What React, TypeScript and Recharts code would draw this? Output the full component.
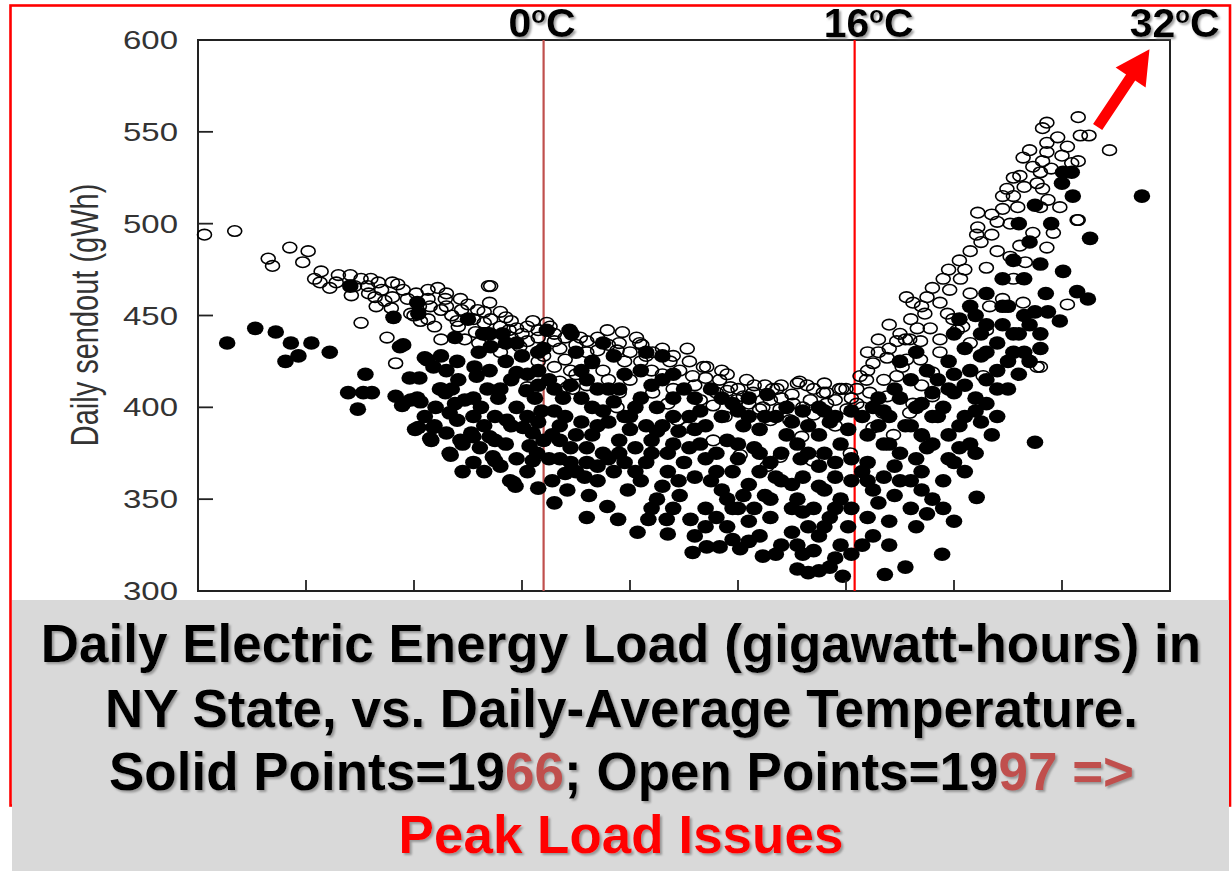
import { ScatterChart, Scatter, XAxis, YAxis, ReferenceLine, ReferenceArea } from 'recharts';

// daily-average temperature (°F) vs daily sendout (gWh)
const solid1966: [number, number][] = [
  [2.7, 435], [5.3, 443], [7.2, 441], [8.6, 435], [8.1, 425], [9.3, 428], [10.5, 435], [12.2, 430],
  [14.1, 466], [15.5, 418], [13.9, 408], [15.3, 408], [16.1, 408], [14.8, 399], [18.1, 449], [18.7, 433],
  [18.3, 406], [18.9, 401], [19.6, 416], [20.3, 405], [20.1, 388], [20.3, 457], [20.4, 451], [19.7, 404],
  [20.6, 403], [20.5, 416], [19, 434], [19, 402],
  [21, 427], [21.8, 422], [20.4, 389], [21.6, 382], [21.9, 390], [23.4, 374], [23.3, 397], [22.9, 408],
  [24.1, 415], [24.7, 404], [25.3, 386], [26.1, 378], [26.2, 400], [25.6, 422], [27.1, 433], [27.5, 382],
  [27.5, 371], [25, 448], [26.6, 440], [23.8, 438], [22.5, 410], [24, 393], [25.5, 395], [26.8, 410],
  [23, 386], [24.5, 380], [22.5, 428], [26, 430], [27, 420], [26.4, 440], [21.2, 426], [22.4, 410],
  [25.8, 417], [23.8, 402], [21.8, 389], [25.5, 384], [27, 384], [24.3, 382], [21.5, 383], [23.3, 375],
  [27.3, 373], [21, 395], [22, 400], [23, 420], [24, 425], [25.5, 405], [26.5, 390], [27.5, 395],
  [28.5, 380], [29.5, 372], [30.5, 365], [29, 390], [28, 410], [26.5, 365], [24.5, 365], [25.5, 370],
  [23.5, 410], [27, 440], [28.5, 435], [30.5, 418], [31.5, 430], [29.5, 435],
  [28, 368], [29.2, 359], [29.5, 400], [30.1, 389], [30.7, 379], [31, 371], [29, 415], [28.5, 425],
  [30, 428], [31.5, 420], [32.3, 442], [32, 432], [32.5, 415], [31.8, 398], [32.8, 385], [32.5, 372],
  [28.2, 440], [27.8, 405], [31.2, 405], [33, 398], [32.8, 360], [31.5, 356], [33, 348], [28.6, 393],
  [28.9, 360], [29.4, 357], [30.4, 409], [31, 386], [31.4, 375], [29.5, 419], [30.5, 395], [31.5, 392],
  [32, 382], [31.5, 412], [33, 410],
  [33.8, 405], [34.4, 442], [34.6, 440], [35, 430], [35.5, 420], [34, 395], [35, 385], [36, 378],
  [34.5, 370], [35.8, 362], [36.5, 400], [37, 390], [37.5, 375], [37, 360], [36, 340], [37.9, 346],
  [38.9, 339], [38.5, 365], [39, 382], [39.5, 395], [38, 410], [36.5, 425], [39.5, 418], [37.5, 435],
  [38.5, 428], [39.8, 355], [39.5, 370], [36.2, 352], [34.2, 355], [35.5, 405], [33.5, 382], [38, 392],
  [33.5, 390], [34.5, 378], [35.5, 392], [36.5, 385], [37.5, 398], [38.5, 403], [39, 375], [38, 372],
  [37, 368], [36, 370], [35, 365], [34, 364], [33.5, 372], [34.5, 412], [36, 415], [37, 410], [39, 410],
  [40.7, 332], [41.7, 339], [43.4, 339], [45.6, 339], [41, 360], [42, 375], [41.5, 390], [42.5, 400],
  [43, 415], [41, 420], [44, 380], [43.5, 365], [44.6, 352], [45, 370], [46, 362], [46.5, 380],
  [44, 395], [45.5, 395], [46.5, 398], [47, 345], [47.5, 360], [42.5, 350], [40.5, 400], [41.5, 430],
  [43, 428], [45.8, 321], [47.1, 324], [44, 405], [47, 390], [40.5, 378], [42.5, 387], [45, 410],
  [40, 388], [40.5, 365], [41.5, 370], [42, 382], [43, 390], [43.5, 375], [44.5, 387], [44.5, 360],
  [45.5, 378], [46, 388], [42, 345], [43, 357], [44, 345], [40, 395], [41, 405], [42, 412], [44, 418],
  [46, 405], [43.5, 331], [46, 330], [47, 335], [47, 372],
  [48.3, 324], [50.2, 323], [52.3, 319], [49, 335], [50, 345], [51, 338], [52, 330], [53, 340],
  [54, 325], [48.5, 355], [49.5, 365], [51, 358], [52.5, 352], [54, 360], [48, 375], [49, 382],
  [50.5, 390], [51.5, 378], [53, 370], [54.5, 385], [50, 398], [52.7, 407], [53.5, 395], [48.5, 395],
  [51, 405], [54.5, 400], [55, 345], [53.5, 320], [55, 332], [49.5, 345], [52, 365], [50, 372],
  [47.5, 410], [48.5, 405], [49.5, 402], [51, 395], [52, 388], [50, 380], [48, 365], [49, 350],
  [50.5, 352], [51.5, 345], [53, 350], [55, 358], [53.5, 362], [52, 375], [48, 340], [49.5, 328],
  [51, 327], [54, 375], [52.5, 395],
  [55.5, 312], [56.5, 310], [57.5, 311], [58.5, 313], [59.7, 308], [55.5, 325], [56.5, 335], [57.5, 330],
  [58.5, 340], [59.5, 325], [60.2, 335], [55.5, 350], [57, 345], [58, 355], [59.5, 350], [60.5, 345],
  [56, 362], [57.5, 368], [59, 362], [60.5, 360], [55.5, 380], [56.5, 390], [57.5, 385], [58.5, 392],
  [59.5, 380], [60.2, 388], [56, 398], [57.5, 400], [59, 395], [58, 375], [55.8, 372], [56, 320],
  [57, 322], [59, 318], [60.5, 320], [58, 335], [56, 343], [59, 345], [57.5, 357], [56.5, 375],
  [59, 370], [60.5, 372], [58, 398], [60.5, 398], [55, 392],
  [61.5, 325], [62, 340], [63.6, 309], [65.5, 313], [62.5, 355], [63, 348], [64, 338], [64.5, 352],
  [65, 360], [66, 345], [66.5, 335], [67, 355], [67.5, 342], [63.5, 362], [68.9, 320], [62, 370],
  [63.5, 380], [65, 375], [66.5, 372], [67.5, 378], [64, 395], [65.5, 390], [66.5, 400], [67, 385],
  [68, 395], [62.5, 400], [61.5, 395], [63, 405], [64.5, 410], [66, 415], [67.5, 420], [68, 408],
  [65, 425], [66.5, 430], [62.5, 330], [64, 325], [62, 360], [63, 390], [64.5, 368], [66, 360],
  [67, 365], [68, 350], [68.5, 415], [67, 402], [65, 405], [63.5, 398], [62, 385], [61.5, 365],
  [64, 380], [66, 390], [68, 380],
  [70, 338], [72.1, 351], [69, 360], [70, 370], [71, 365], [72, 375], [69.5, 385], [70.5, 390],
  [71.5, 380], [72.5, 392], [73.5, 385], [74, 395], [69, 400], [70, 408], [71, 412], [72, 405],
  [73, 415], [74, 420], [69.5, 425], [71, 432], [72.5, 428], [74, 435], [73, 445], [70, 440],
  [72, 450], [74.5, 445], [71.5, 455], [73, 462], [74.5, 470], [75, 455], [68.5, 395], [69, 345],
  [69.5, 372], [70.5, 378], [71, 395], [72, 398], [73, 402], [70, 418], [71.5, 420], [73, 430],
  [74, 410], [75, 425], [75.5, 440], [76.5, 430], [77, 445], [78, 440], [74.5, 455], [72.5, 440],
  [70.5, 448], [69.5, 410],
  [77.5, 381], [75.5, 430], [76, 440], [77, 425], [78, 432], [76.5, 450], [77.5, 452], [78.7, 452],
  [79.8, 447], [80.1, 474], [81.4, 463], [82.4, 459], [82.6, 492], [80.1, 528], [80.9, 528], [80, 522],
  [81, 515], [87.4, 515], [76.5, 470], [78, 478], [77, 490], [79, 500], [76, 500], [77.5, 510],
  [75.5, 480], [78.5, 462], [75, 410], [76, 418],
];

const open1997: [number, number][] = [
  [0.6, 494], [3.4, 496], [6.5, 481], [6.9, 477], [8.5, 487], [10.2, 485], [9.7, 479], [11.4, 474],
  [11.3, 468], [12.2, 465], [13, 472], [14.1, 472], [15.1, 470], [14.2, 461], [15.1, 446], [10.8, 470],
  [12.8, 468], [14.5, 466],
  [15.7, 466], [16.7, 468], [18, 468], [18.5, 467], [16.4, 460], [16.5, 455], [18, 460], [17.9, 454],
  [19.4, 459], [17.5, 438], [18.3, 424], [19.7, 451], [20.6, 447], [21.3, 464], [22.2, 465], [21.3, 459],
  [15.8, 462], [17, 464], [19, 464], [20.2, 462], [16, 470], [17.3, 458], [20.5, 455], [20, 450],
  [21.5, 455],
  [22.9, 459], [22.5, 453], [24.3, 459], [24.4, 453], [25.9, 453], [27.1, 466], [27, 457], [21.3, 448],
  [21.9, 444], [22.5, 437], [24.1, 444], [24.7, 437], [25.7, 441], [27.1, 448], [23.5, 450], [26.5, 446],
  [28, 444], [29, 438], [29.8, 433], [28.5, 449], [26.9, 466], [23, 462], [25, 456], [28.8, 442],
  [27.5, 436], [26, 435], [29.5, 443], [30, 440], [28, 430], [30.5, 411], [23, 455], [24, 447],
  [25.5, 448], [26.5, 452], [28, 452], [29, 447],
  [31, 447], [32.6, 444], [32.3, 446], [30.5, 436], [31.5, 438], [33, 440], [32, 428], [33.5, 432],
  [34, 426], [34.5, 420], [35.4, 438], [36, 430], [37, 431], [37.9, 442], [38.8, 431], [39.3, 441],
  [36.5, 424], [34.2, 411], [34.7, 410], [38.8, 400], [39, 408], [35, 418], [37.5, 420], [39.5, 425],
  [33, 422], [36, 412], [38, 415], [40, 415], [31.5, 425], [33.5, 414], [30.5, 444], [31.5, 442],
  [33, 436], [34, 438], [35, 434], [36, 436], [37, 438], [38, 434], [39, 435], [40, 430],
  [40.6, 438], [40.9, 435], [41.1, 434], [42.1, 430], [43.7, 425], [44.6, 420], [45.3, 432], [47.1, 422],
  [45.8, 417], [46.8, 422], [48.3, 415], [49.3, 411], [46.5, 404], [47.7, 401], [49.9, 404], [42.1, 408],
  [44.4, 393], [45.3, 389], [47.7, 382], [50.2, 374], [42, 420], [43, 418], [44, 410], [41, 425],
  [48, 408], [49, 418], [46, 412], [43.5, 402], [48.8, 395], [50, 410], [41.5, 428], [43, 432],
  [44, 428], [45.5, 425], [47, 416], [48.5, 420], [49, 409],
  [50.8, 415], [53.2, 410], [51.4, 408], [52, 399], [52.7, 368], [55.7, 414], [59.4, 410], [57.9, 408],
  [53.6, 410], [55.5, 413], [56.4, 412], [58.2, 408], [59.6, 410], [52.3, 400], [53.9, 399], [55.1, 402],
  [56.7, 404], [58.2, 402], [60.1, 399], [53, 393], [54.8, 393], [53.9, 373], [56.9, 371], [60.4, 375],
  [55.9, 384], [51, 402], [57, 396], [59, 390], [60.5, 405], [54, 405], [52.5, 412], [50.5, 406],
  [51.5, 412], [53, 404], [54, 412], [55, 407], [56, 400], [57, 410], [58, 413], [59, 404], [60, 410],
  [61.3, 417], [61.9, 415], [61, 410], [62.2, 408], [63.8, 406], [62.5, 424], [63.8, 427], [65.6, 426],
  [63, 437], [64.7, 436], [65.5, 437], [66.9, 436], [68.7, 437], [64.7, 417], [68, 419], [66.2, 402],
  [68, 406], [63.4, 397], [62.5, 389], [64.4, 385], [65.9, 397], [67.1, 384], [65.6, 460], [66.2, 457],
  [67.5, 460], [67.3, 451], [66.6, 443], [67.8, 443], [69.9, 448], [69.4, 451], [68.7, 457], [69.6, 464],
  [69, 470], [65.9, 437], [66.9, 426], [68.7, 430], [65.2, 422], [61.5, 400], [62, 430], [64, 445],
  [63.5, 415], [67, 412], [61, 402], [62, 420], [63, 430], [64, 432], [65, 440], [66, 448], [67, 455],
  [68, 465], [69.5, 475],
  [70.8, 444], [73, 442], [76.4, 457], [70.3, 442], [71.5, 435], [72.7, 417], [77.7, 422], [78, 422],
  [70.6, 470], [71, 475], [72.2, 506], [72.2, 498], [72.1, 494], [73.5, 494], [74, 501], [75.2, 500],
  [74.5, 515], [74.9, 519], [75.5, 525], [76.1, 526], [76.4, 536], [77.3, 531], [77.7, 522], [78.2, 519],
  [78.7, 513], [78, 509], [79.8, 509], [75.9, 509], [77.3, 495], [79.2, 495], [78.6, 487], [76.1, 488],
  [76.6, 479], [75.2, 482], [73.3, 455], [74.5, 459], [76.4, 470], [78.6, 544], [78.2, 534], [78.6, 539],
  [79.6, 547], [78.6, 555], [78.2, 552], [73, 476], [74, 485], [71.5, 462], [75.5, 470], [70.5, 480],
  [71.5, 485], [72.5, 490], [73.5, 505], [74.5, 508], [75.5, 515], [76.5, 520], [77, 540], [78, 528],
  [79, 530], [80, 537],
  [80.5, 542], [80.9, 533], [81.5, 534], [81.5, 558], [81.7, 548], [82.5, 548], [84.4, 540], [81.5, 502],
  [80.5, 456], [81.4, 502],
];

const yTicks = [300, 350, 400, 450, 500, 550, 600];
const xTicks = [10, 20, 30, 40, 50, 60, 70, 80];
// 0ºC, 16ºC, 32ºC expressed in °F on the x axis
const tempMarks = [
  { f: 32, deg: '0', color: '#c0504d', dx: -1.5 },
  { f: 60.8, deg: '16', color: '#ff0000', dx: 14 },
  { f: 89.6, deg: '32', color: 'none', dx: 9 },
];
// red arrow: tail and tip in data units
const arrowFrom = { t: 83.3, load: 552.6 };
const arrowTo = { t: 88.1, load: 595 };

const FONT = "'Liberation Sans', Arial, Helvetica, sans-serif";

const solidPts = solid1966.map(([t, load]) => ({ t, load }));
const openPts = open1997.map(([t, load]) => ({ t, load }));

function SolidDot(p: any) {
  if (p.cx == null) return null;
  return <ellipse cx={p.cx} cy={p.cy} rx={8.3} ry={6.8} fill="#000" />;
}

function OpenDot(p: any) {
  if (p.cx == null) return null;
  return <ellipse cx={p.cx} cy={p.cy} rx={7} ry={5.3} fill="none" stroke="#000" strokeWidth={1.6} />;
}

function YTick({ x, y, payload }: any) {
  return (
    <g>
      <line x1={x} y1={y} x2={x + 15} y2={y} stroke="#222" strokeWidth={1.8} />
      <text
        x={x - 20}
        y={y}
        dy="0.36em"
        textAnchor="end"
        fontSize={25}
        fontFamily={FONT}
        fill="#333"
        textLength={55}
        lengthAdjust="spacingAndGlyphs"
      >
        {payload.value}
      </text>
    </g>
  );
}

function XTick({ x, y }: any) {
  return <line x1={x} y1={y} x2={x} y2={y - 11} stroke="#222" strokeWidth={1.8} />;
}

function TempLabel({ viewBox, deg, dx }: any) {
  const cx = viewBox.x + dx;
  const base = viewBox.y - 3;
  return (
    <text
      x={cx}
      y={base}
      textAnchor="middle"
      fontFamily={FONT}
      fontWeight="bold"
      fontSize={41}
      fill="#000"
      filter="url(#txtShadow)"
    >
      {deg}
      <tspan fontSize={24} dy={-14}>o</tspan>
      <tspan dy={14}>C</tspan>
    </text>
  );
}

function ArrowShape(p: any) {
  const { x1, y1, x2, y2 } = p;
  if (x1 == null) return null;
  const len = Math.hypot(x2 - x1, y2 - y1);
  const ux = (x2 - x1) / len;
  const uy = (y2 - y1) / len;
  const nx = -uy;
  const ny = ux;
  const shaft = 5.5;
  const head = 18;
  const headLen = 34;
  const bx = x2 - ux * headLen;
  const by = y2 - uy * headLen;
  const pts = [
    [x1 + nx * shaft, y1 + ny * shaft],
    [bx + nx * shaft, by + ny * shaft],
    [bx + nx * head, by + ny * head],
    [x2, y2],
    [bx - nx * head, by - ny * head],
    [bx - nx * shaft, by - ny * shaft],
    [x1 - nx * shaft, y1 - ny * shaft],
  ]
    .map((q) => q.join(','))
    .join(' ');
  return <polygon points={pts} fill="#ff0000" />;
}

export default function App() {
  return (
    <div style={{ position: 'fixed', left: 0, top: 0, width: 1232, height: 871, background: '#fff' }}>
      <svg width={0} height={0} style={{ position: 'absolute' }}>
        <defs>
          <filter id="txtShadow" x="-10%" y="-20%" width="130%" height="150%">
            <feDropShadow dx={2} dy={2} stdDeviation={1.3} floodColor="#808080" floodOpacity={0.75} />
          </filter>
        </defs>
      </svg>
      <ScatterChart width={1232} height={871} margin={{ top: 40, right: 62, bottom: 260, left: 48 }}>
        <XAxis
          dataKey="t"
          type="number"
          domain={[0, 90]}
          ticks={xTicks}
          interval={0}
          axisLine={false}
          tickLine={false}
          tickSize={0}
          tickMargin={0}
          height={20}
          tick={<XTick />}
        />
        <YAxis
          dataKey="load"
          type="number"
          domain={[300, 600]}
          ticks={yTicks}
          interval={0}
          axisLine={false}
          tickLine={false}
          tickSize={0}
          tickMargin={0}
          width={150}
          tick={<YTick />}
        />
        <ReferenceArea x1={0} x2={90} y1={300} y2={600} fill="none" stroke="#222" strokeWidth={2} />
        <Scatter data={openPts} shape={OpenDot} isAnimationActive={false} />
        <Scatter data={solidPts} shape={SolidDot} isAnimationActive={false} />
        {tempMarks.map((m) => (
          <ReferenceLine
            key={m.deg}
            x={m.f}
            stroke={m.color}
            strokeWidth={2.2}
            ifOverflow="visible"
            label={<TempLabel deg={m.deg} dx={m.dx} />}
          />
        ))}
        <ReferenceLine
          segment={[
            { x: arrowFrom.t, y: arrowFrom.load },
            { x: arrowTo.t, y: arrowTo.load },
          ]}
          ifOverflow="visible"
          shape={ArrowShape}
        />
      </ScatterChart>
      <svg
        width={1232}
        height={871}
        style={{ position: 'absolute', left: 0, top: 0, pointerEvents: 'none' }}
      >
        <text
          transform="translate(98,315) rotate(-90) scale(1,1.33)"
          textAnchor="middle"
          fontFamily={FONT}
          fontSize={29}
          fill="#333"
        >
          Daily sendout (gWh)
        </text>
        <rect x={10.5} y={5.5} width={1219.5} height={800} fill="none" stroke="#ff0000" strokeWidth={2.6} />
        <rect x={12} y={600} width={1217} height={271} fill="#d9d9d9" />
        <g fontFamily={FONT} fontWeight="bold" fontSize={53} textAnchor="middle" filter="url(#txtShadow)">
          <text x={621} y={662} fill="#000">
            Daily Electric Energy Load (gigawatt-hours) in
          </text>
          <text x={621.5} y={727} fill="#000">
            NY State, vs. Daily-Average Temperature.
          </text>
          <text x={621.5} y={790} fill="#000">
            Solid Points=19<tspan fill="#c0504d">66</tspan>; Open Points=19
            <tspan fill="#c0504d">{'97 =>'}</tspan>
          </text>
          <text x={621} y={853} fill="#ff0000">
            Peak Load Issues
          </text>
        </g>
      </svg>
    </div>
  );
}
